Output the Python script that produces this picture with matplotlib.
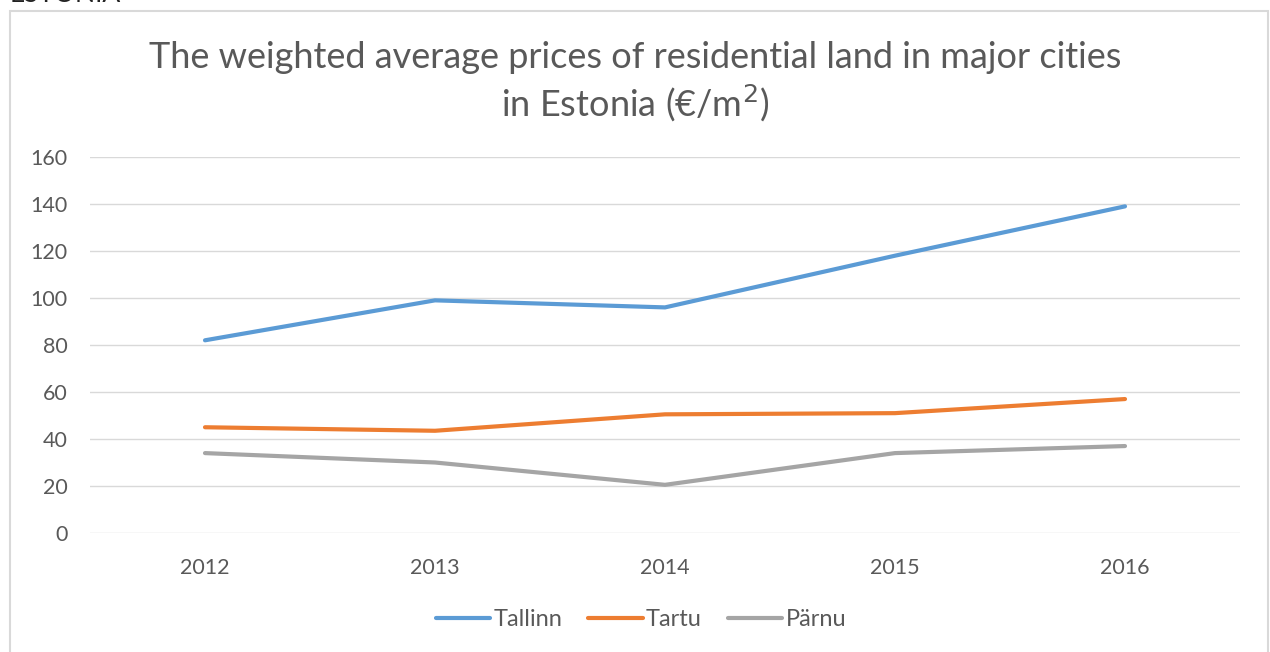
import matplotlib.pyplot as plt
from matplotlib.patches import Rectangle

plt.rcParams['font.family'] = ['Lato', 'DejaVu Sans']

years = ['2012', '2013', '2014', '2015', '2016']
tallinn = [82, 99, 96, 118, 139]
tartu = [45, 43.5, 50.5, 51, 57]
parnu = [34, 30, 20.5, 34, 37]

grey = '#595959'

fig = plt.figure(figsize=(12.7, 6.52), dpi=100)
ax = fig.add_axes([90/1270, 1-533/652, 1150/1270, (533-157)/652])

x = range(len(years))
ax.plot(x, tallinn, color='#5b9bd5', lw=3, solid_capstyle='round', label='Tallinn')
ax.plot(x, tartu, color='#ed7d31', lw=3, solid_capstyle='round', label='Tartu')
ax.plot(x, parnu, color='#a5a5a5', lw=3, solid_capstyle='round', label='Pärnu')

ax.set_xlim(-0.5, 4.5)
ax.set_ylim(0, 160)
ax.set_yticks(range(0, 161, 20))
ax.set_xticks(list(x))
ax.set_xticklabels(years)
ax.grid(axis='y', color='#d9d9d9', lw=1)
ax.set_axisbelow(True)
for s in ax.spines.values():
    s.set_visible(False)
ax.tick_params(axis='both', length=0, colors=grey, labelsize=15.5)
ax.tick_params(axis='y', pad=16)
ax.tick_params(axis='x', pad=18)

fig.text(0.5, 1-58/652, 'The weighted average prices of residential land in major cities',
         ha='center', va='center', fontsize=26, color=grey)
fig.text(0.5, 1-103/652, 'in Estonia (€/m$^2$)', ha='center', va='center',
         fontsize=26, color=grey)

# heading of the page above, cut off by the crop
fig.text(10/1270, 1-2/652, 'ESTONIA', ha='left', va='baseline', fontsize=19,
         color='#222222')

fig.patches.append(Rectangle((10/1270, -0.1), 1258/1270, 1.1-11/652,
                             transform=fig.transFigure, fill=False,
                             ec='#d9d9d9', lw=1.5))

leg = fig.legend(loc='center', bbox_to_anchor=(0.5 + 6/1270, 1-620/652), ncol=3,
                 frameon=False, fontsize=17, handlelength=2.3,
                 handletextpad=0.15, columnspacing=1.1)
for t in leg.get_texts():
    t.set_color(grey)

fig.savefig('out.png', dpi=100)
